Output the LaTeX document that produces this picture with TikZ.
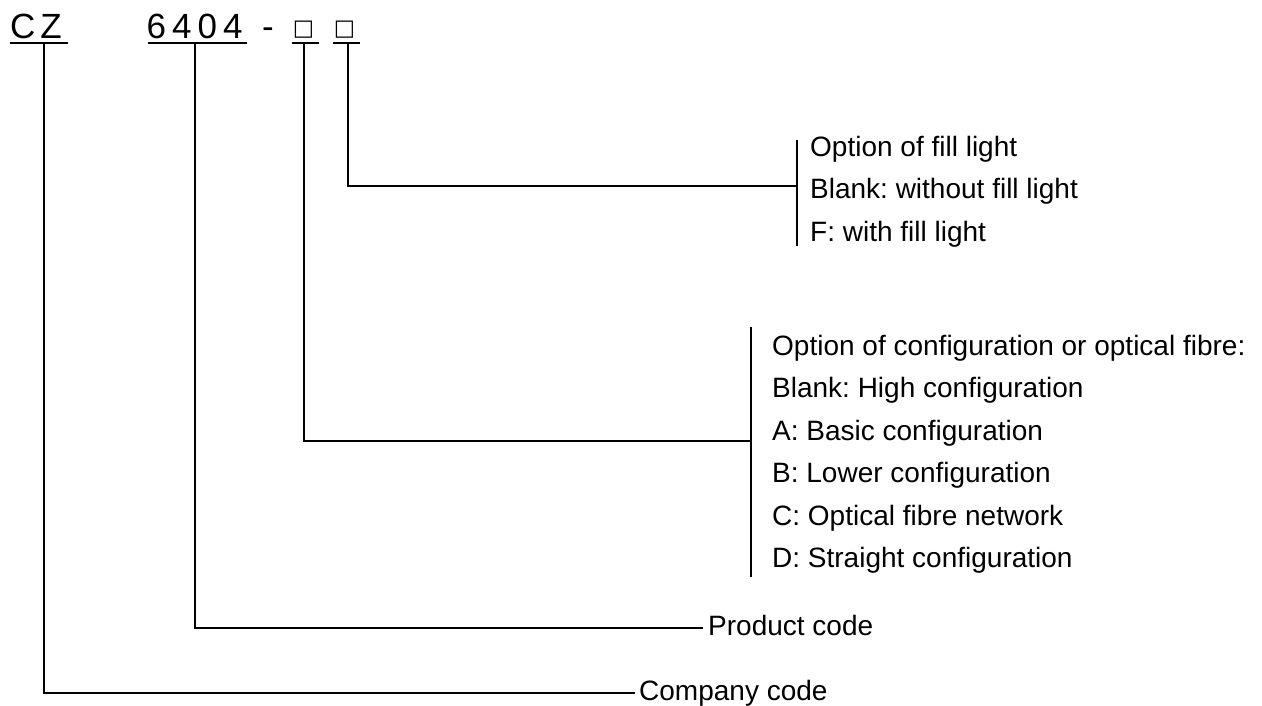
\documentclass[tikz,border=0pt]{standalone}
\usepackage{fontspec}
\setmainfont{Liberation Sans}
\newfontfamily\symf{DejaVu Sans}
\frenchspacing
\begin{document}
\begin{tikzpicture}[x=1pt,y=-1pt,
  lbl/.style={inner sep=0pt, anchor=west, font=\fontsize{28}{32}\selectfont, text height=20pt, text depth=6pt},
  codetxt/.style={inner sep=0pt, anchor=base west, font=\fontsize{35}{40}\selectfont},
  boxglyph/.style={inner sep=0pt, anchor=base, font=\symf\fontsize{22.5}{26}\selectfont},
  conn/.style={line width=2pt},
  uline/.style={line width=2.8pt}
]
\useasboundingbox (0,0) rectangle (1262,706);

% code parts
\node[codetxt] (cz) at (10,39) {C\kern5pt Z};
\node[codetxt] (num) at (146.5,39) {6\kern6pt 4\kern6pt 0\kern6pt 4};
\node[codetxt, anchor=base] (dash) at (268,39) {-};
\node[boxglyph] (b1) at (303.5,36) {□};
\node[boxglyph] (b2) at (344.5,36) {□};

% underlines
\draw[uline] (10,43) -- (68,43);
\draw[uline] (148,43) -- (247,43);
\draw[uline] (292,43) -- (319,43);
\draw[uline] (333,43) -- (360,43);

\coordinate (czl) at (44,43);
\coordinate (numl) at (195,43);
\coordinate (b1l) at (304,43);
\coordinate (b2l) at (348,43);

% labels
\node[lbl] (company) at (639,693) {Company code};
\node[lbl] (product) at (708,628) {Product code};

\node[lbl] (f1) at (810,150) {Option of fill light};
\node[lbl] (f2) at (810,192) {Blank: without fill light};
\node[lbl] (f3) at (810,234) {F: with fill light};

\node[lbl] (c1) at (772,348) {Option of configuration or optical fibre:};
\node[lbl] (c2) at (772,390) {Blank: High configuration};
\node[lbl] (c3) at (772,433) {A: Basic configuration};
\node[lbl] (c4) at (772,475) {B: Lower configuration};
\node[lbl] (c5) at (772,518) {C: Optical fibre network};
\node[lbl] (c6) at (772,560) {D: Straight configuration};

% brackets
\coordinate (br1t) at (797,140);
\coordinate (br1b) at (797,246);
\coordinate (j1) at (797,186);
\coordinate (br2t) at (751,327);
\coordinate (br2b) at (751,577);
\coordinate (j2) at (751,441);
\draw[conn] (br1t) -- (br1b);
\draw[conn] (br2t) -- (br2b);

% connectors
\draw[conn] (b2l) |- (j1);
\draw[conn] (b1l) |- (j2);
\draw[conn] (numl) |- ([xshift=-5pt]product.west);
\draw[conn] (czl) |- ([xshift=-4pt]company.west);
\end{tikzpicture}
\end{document}
